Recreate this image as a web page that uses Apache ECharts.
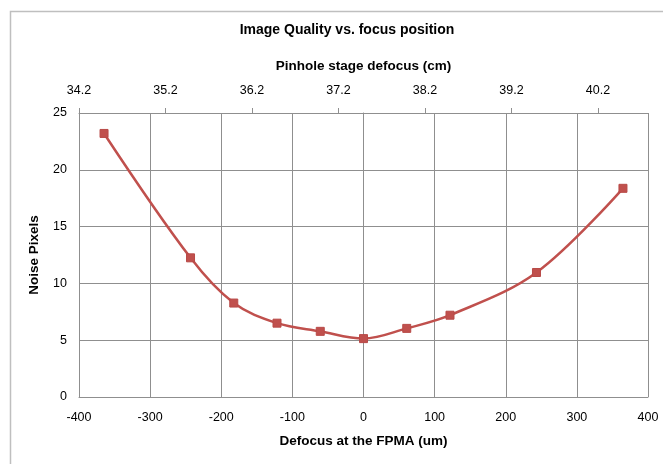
<!DOCTYPE html>
<html>
<head>
<meta charset="utf-8">
<script src="https://cdn.jsdelivr.net/npm/echarts@6/dist/echarts.min.js"></script>
<style>
html,body{margin:0;padding:0;background:#fff;}
#chart{width:663px;height:464px;}
</style>
</head>
<body>
<div id="chart"></div>
<script>
// Data
var defocusUm = [-364.8, -243.2, -182.4, -121.6, -60.8, 0, 60.8, 121.6, 243.2, 364.8];
var noisePixels = [23.2, 12.25, 8.27, 6.5, 5.78, 5.14, 6.04, 7.2, 10.96, 18.37];
var stageStartCm = 34.2;       // top axis value at the left edge
var stageSpanCm = 800 / 121.6; // top axis span across the plot

var FONT = '"Liberation Sans", Arial, sans-serif';
var chart = echarts.init(document.getElementById('chart'));
var gridColor = '#8f8f8f';

chart.setOption({
  animation: false,
  backgroundColor: '#fff',
  textStyle: {fontFamily: FONT},
  graphic: [{
    type: 'rect', left: 8, top: 9, silent: true,
    shape: {width: 720, height: 520},
    style: {fill: 'none', stroke: '#bfbfbf', lineWidth: 1.5}
  }],
  title: {
    text: 'Image Quality vs. focus position',
    left: 342, top: 18, textAlign: 'center',
    textStyle: {fontFamily: FONT, fontSize: 14, fontWeight: 'bold', color: '#000'}
  },
  grid: {left: 79, right: 15, top: 113, bottom: 67},
  xAxis: [{
    type: 'value', position: 'bottom',
    min: -400, max: 400, interval: 100,
    name: 'Defocus at the FPMA (um)', nameLocation: 'middle', nameGap: 37,
    nameTextStyle: {fontFamily: FONT, fontSize: 13.5, fontWeight: 'bold', color: '#000'},
    axisLine: {show: true, lineStyle: {color: gridColor, width: 1}},
    axisTick: {show: false},
    axisLabel: {margin: 14, fontFamily: FONT, fontSize: 12.5, color: '#000'},
    splitLine: {show: true, lineStyle: {color: gridColor, width: 1}}
  }, {
    type: 'value', position: 'top',
    min: 0, max: stageSpanCm, interval: 1,
    name: 'Pinhole stage defocus (cm)', nameLocation: 'middle', nameGap: 40,
    nameTextStyle: {fontFamily: FONT, fontSize: 13.5, fontWeight: 'bold', color: '#000'},
    axisLine: {show: true, lineStyle: {color: gridColor, width: 1}},
    axisTick: {show: true, inside: false, length: 5, lineStyle: {color: gridColor}},
    axisLabel: {margin: 16, showMaxLabel: false, fontFamily: FONT, fontSize: 12.5, color: '#000',
      formatter: function (v) { return (stageStartCm + v).toFixed(1); }},
    splitLine: {show: false}
  }],
  yAxis: [{
    type: 'value', min: 0, max: 25, interval: 5,
    name: 'Noise Pixels', nameLocation: 'middle', nameGap: 38, nameRotate: 90,
    nameTextStyle: {fontFamily: FONT, fontSize: 13.5, fontWeight: 'bold', color: '#000'},
    axisLine: {show: true, lineStyle: {color: gridColor, width: 1}},
    axisTick: {show: false},
    axisLabel: {margin: 12, fontFamily: FONT, fontSize: 12.5, color: '#000'},
    splitLine: {show: true, lineStyle: {color: gridColor, width: 1}}
  }],
  series: [{
    type: 'line',
    xAxisIndex: 0, yAxisIndex: 0,
    data: defocusUm.map(function (x, i) { return [x, noisePixels[i]]; }),
    smooth: 0.35,
    symbol: 'rect', symbolSize: 8,
    lineStyle: {color: '#c0504d', width: 2.5},
    itemStyle: {color: '#c0504d', borderColor: '#b84a47', borderWidth: 1}
  }]
});
</script>
</body>
</html>
